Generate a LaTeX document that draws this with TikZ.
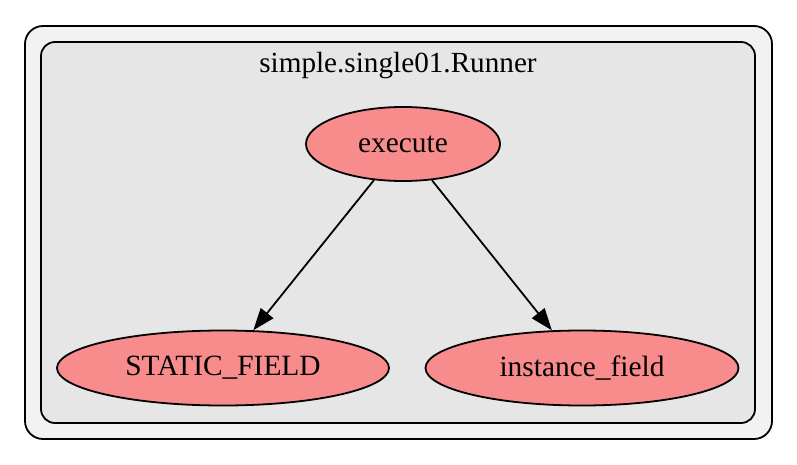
\documentclass[tikz,border=0pt]{standalone}
\usepackage{fontspec}
\setmainfont{Liberation Serif}
\usetikzlibrary{shapes.geometric,arrows.meta}
\definecolor{nodefill}{RGB}{248,140,140}
\definecolor{outerfill}{RGB}{242,242,242}
\definecolor{innerfill}{RGB}{230,230,230}
\tikzset{
  fn/.style={ellipse, draw=black, line width=0.9pt, fill=nodefill, inner sep=0pt, font=\fontsize{14.7}{16}\selectfont},
  edge/.style={draw=black, line width=0.9pt, -{Triangle[length=11pt,width=8pt]}},
  clusterbox/.style={draw=black, line width=0.9pt},
}
\begin{document}
\begin{tikzpicture}[x=0.5pt,y=-0.5pt]
\useasboundingbox (0,0) rectangle (797,465);
\fill[white] (0,0) rectangle (797,465);
\draw[clusterbox, fill=outerfill, rounded corners=9pt] (25,26) rectangle (772,439);
\draw[clusterbox, fill=innerfill, rounded corners=7pt] (41,42) rectangle (755,423);
\node[font=\fontsize{14.6}{16}\selectfont] (title) at (398,66) {simple.single01.Runner};
\node[fn, minimum width=97pt, minimum height=37pt] (execute) at (403,144) {execute};
\node[fn, minimum width=166pt, minimum height=37.5pt] (static) at (223,368) {STATIC\_FIELD};
\node[fn, minimum width=156.5pt, minimum height=37.5pt] (inst) at (582,368) {instance\_field};
\draw[edge] (execute) -- (static);
\draw[edge] (execute) -- (inst);
\end{tikzpicture}
\end{document}
